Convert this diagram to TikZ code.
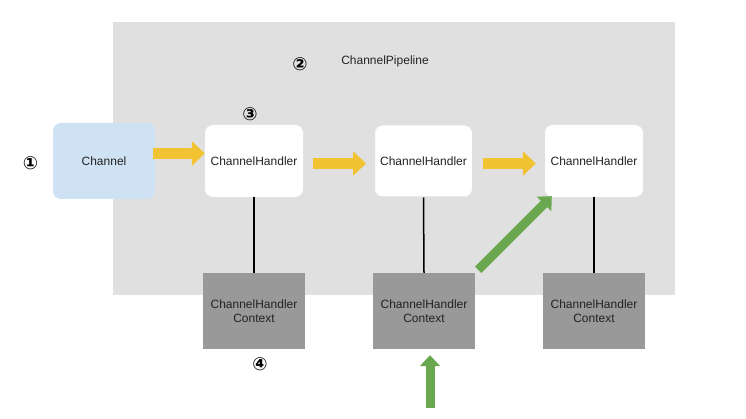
\documentclass[tikz,border=0pt]{standalone}
\usepackage{fontspec}
\setmainfont{Liberation Sans}
\newfontfamily\symfont{DejaVu Sans}
\usetikzlibrary{arrows.meta,calc}
\definecolor{bggray}{HTML}{E0E0E0}
\definecolor{chblue}{HTML}{CFE2F3}
\definecolor{ctxgray}{HTML}{999999}
\definecolor{yarrow}{HTML}{F1C232}
\definecolor{garrow}{HTML}{6AA84F}
\definecolor{txt}{HTML}{222222}
\tikzset{
  lbl/.style={font=\fontsize{12}{14}\selectfont, text=txt, inner sep=0pt},
  num/.style={font=\symfont\bfseries\fontsize{18}{20}\selectfont, inner sep=0pt},
  chbox/.style={lbl, fill=chblue, rounded corners=8pt, minimum width=102pt, minimum height=76pt},
  hbox/.style={lbl, fill=white, rounded corners=8pt, minimum width=98pt, minimum height=72pt},
  cbox/.style={lbl, fill=ctxgray, minimum width=102pt, minimum height=76pt, align=center, font=\fontsize{12}{14}\selectfont},
  link/.style={draw=black, line width=1.5pt},
  yarr/.style={draw=yarrow, line width=11pt, -{Triangle[length=13pt,width=24pt]}},
  garr/.style={draw=garrow, line width=9pt, -{Triangle[length=11pt,width=20pt]}},
}
\begin{document}
\begin{tikzpicture}[x=1pt,y=-1pt]
\useasboundingbox (0,0) rectangle (746,419);
\fill[white] (0,0) rectangle (746,419);
\fill[bggray] (113,22) rectangle (675,295);

\node[lbl] (pl) at (385,61) {ChannelPipeline};
\node[num] (n1) at (30.5,163.5) {①};
\node[num] (n2) at (300,64) {②};
\node[num] (n3) at (250,114) {③};
\node[num] (n4) at (260,364) {④};

\node[chbox] (ch) at (104,161) {Channel};
\node[hbox] (h1) at (254,161) {ChannelHandler};
\node[hbox, draw=black!12, line width=1pt] (h2) at (423.5,161) {ChannelHandler};
\node[hbox] (h3) at (594,161) {ChannelHandler};

\node[cbox] (c1) at (254,311) {ChannelHandler\\Context};
\node[cbox] (c2) at (424,311) {ChannelHandler\\Context};
\node[cbox] (c3) at (594,311) {ChannelHandler\\Context};

\draw[link] (h1.south) -- (c1.north);
\draw[link] (h2.south) -- (c2.north);
\draw[link] (h3.south) -- (c3.north);

\coordinate (ya) at (0,153.5);
\coordinate (yb) at (0,163.5);
\draw[yarr] ($(ch.east |- ya)+(-2,0)$) -- (h1.west |- ya);
\draw[yarr] ($(h1.east |- yb)+(10,0)$) -- ($(h2.west |- yb)+(-8,0)$);
\draw[yarr] ($(h2.east |- yb)+(10,0)$) -- ($(h3.west |- yb)+(-9,0)$);

\draw[garr] ($(c2.north east)+(3,-3)$) -- ($(h3.south west)+(7,-1)$);
\coordinate (gs) at (430,408);
\draw[garr] (gs) -- ($(c2.south)+(6,6)$);
\end{tikzpicture}
\end{document}
